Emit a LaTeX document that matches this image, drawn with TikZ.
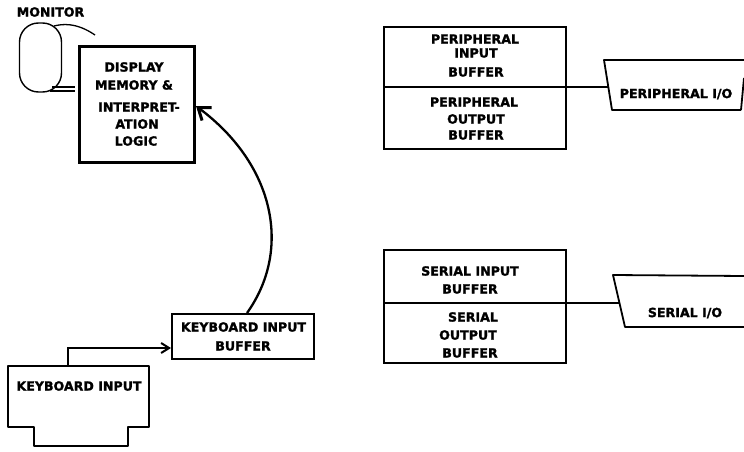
\documentclass[tikz,border=0pt]{standalone}
\usepackage{fontspec}
\setmainfont{DejaVu Sans}[BoldFont={DejaVu Sans Bold},BoldFeatures={FakeBold=1.5}]
\usetikzlibrary{arrows.meta,calc}
\tikzset{
  box/.style={draw=black,line width=2pt,rectangle,inner sep=0pt},
  part/.style={line width=1.8pt,line join=round},
  wire/.style={line width=1.6pt},
  lbl/.style={font=\fontsize{12.6}{14}\selectfont\bfseries,align=center,inner sep=0pt,text=black},
  thin wire/.style={line width=1.3pt}
}
\begin{document}
\begin{tikzpicture}[x=1pt,y=-1pt]
\useasboundingbox (0,0) rectangle (744,452);
% monitor
\node[lbl] (montxt) at (50.5,12) {MONITOR};
\node[draw=black,line width=1.4pt,rectangle,rounded corners=19pt,minimum width=42pt,minimum height=69pt,inner sep=0pt] (mon) at (40.5,57.5) {};
\coordinate (mc) at (95,35);
\draw[thin wire] (54,26) .. controls (62,24) and (76,22) .. (mc);
% display memory
\node[box,line width=2.2pt,minimum width=115pt,minimum height=116pt] (disp) at (137,104.5) {};
\node[lbl] (d1) at (134,67) {DISPLAY};
\node[lbl] (d2) at (134,85) {MEMORY \&};
\node[lbl] (d3) at (139,107) {INTERPRET-};
\node[lbl] (d4) at (137,124) {ATION};
\node[lbl] (d5) at (136,141) {LOGIC};
\coordinate (dl1) at (75,87);
\coordinate (dl2) at (75,91);
\draw[thin wire] (52,87) -- (dl1);
\draw[thin wire] (50,91) -- (dl2);
% keyboard buffer
\node[box,minimum width=142pt,minimum height=45pt] (kb) at (243,336.5) {};
\node[lbl] (kb1) at (243.5,327) {KEYBOARD INPUT};
\node[lbl] (kb2) at (243,346) {BUFFER};
\draw[line width=2.3pt,-{Straight Barb[length=11pt,width=16pt,line width=3pt]}] (kb.north -| 247,0) .. controls (292,250) and (275,165) .. (196,106);
% keyboard input
\draw[part,fill=white] (8,366) -- (149,366) -- (149,427) -- (128,427) -- (128,446) -- (34,446) -- (34,427) -- (8,427) -- cycle;
\coordinate (ki) at (68,366);
\node[lbl] (ki1) at (79,386) {KEYBOARD INPUT};
\draw[wire,-{Straight Barb[length=8pt,width=10pt,line width=2pt]}] (ki) |- (kb.west |- 0,348);
% peripheral
\node[box,line width=1.7pt,minimum width=182pt,minimum height=122pt] (pb) at (475,88) {};
\draw[wire] (pb.west |- 0,87) coordinate (pl) -- (pb.east |- 0,87) coordinate (pr);
\node[lbl] (p1) at (475,39) {PERIPHERAL};
\node[lbl] (p2) at (476,53) {INPUT};
\node[lbl] (p3) at (476,72) {BUFFER};
\node[lbl] (p4) at (474,102) {PERIPHERAL};
\node[lbl] (p5) at (476,119) {OUTPUT};
\node[lbl] (p6) at (476,135) {BUFFER};
\draw[part] (744,60) -- (604,60) -- (612,110) -- (741,110);
\draw[part] (744,78) -- (741,110);
\coordinate (pio) at (608.5,87);
\draw[wire] (pr) -- (pio);
\node[lbl] (p7) at (676,94) {PERIPHERAL I/O};
% serial
\node[box,line width=1.7pt,minimum width=182pt,minimum height=113pt] (sb) at (475,306.5) {};
\draw[wire] (sb.west |- 0,303) coordinate (sl) -- (sb.east |- 0,303) coordinate (sr);
\node[lbl] (s1) at (470,271) {SERIAL INPUT};
\node[lbl] (s2) at (470,289) {BUFFER};
\node[lbl] (s3) at (473,317) {SERIAL};
\node[lbl] (s4) at (468,335) {OUTPUT};
\node[lbl] (s5) at (470,353) {BUFFER};
\draw[part] (744,276) -- (613,275) -- (625,327) -- (744,327);
\coordinate (sio) at (619,303);
\draw[wire] (sr) -- (sio);
\node[lbl] (s6) at (685,313) {SERIAL I/O};
\end{tikzpicture}
\end{document}
